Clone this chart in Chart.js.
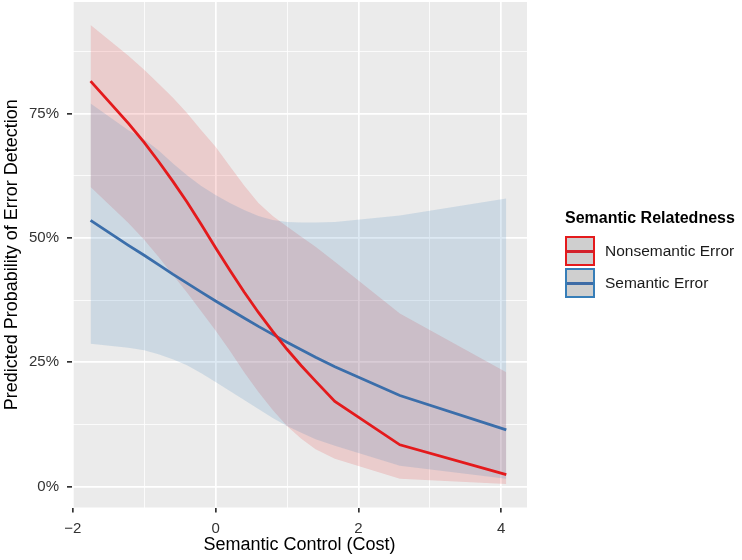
<!DOCTYPE html>
<html lang="en">
  <head>
    <meta charset="utf-8">
    <title>Predicted Probability of Error Detection</title>
    <style>
      html, body { margin: 0; padding: 0; background: #fff; }
      #wrapper { position: relative; width: 742px; height: 560px; }
      canvas { display: block; }
      #legend {
        position: absolute; left: 565px; top: 209px;
        font-family: "Liberation Sans", Arial, sans-serif; color: #000;
      }
      #legend .title { font-weight: bold; font-size: 16px; margin-bottom: 8px; }
      #legend .row { display: flex; align-items: center; height: 32px; }
      #legend .key {
        position: relative; width: 26px; height: 26px; box-sizing: content-box;
        border: 2px solid; background: #cfcfcf; margin-right: 10px;
      }
      #legend .key span { position: absolute; left: 0; right: 0; top: 11.5px; height: 3px; }
      #legend .lbl { font-size: 15.5px; color: #1a1a1a; }
    </style>
  </head>
  <body>
    <div id="wrapper">
      <canvas id="canvas" width="742" height="560"></canvas>
      <div id="legend">
        <div class="title">Semantic Relatedness</div>
        <div class="row"><div class="key" style="border-color:#e41a1c"><span style="background:#d3212b"></span></div><div class="lbl">Nonsemantic Error</div></div>
        <div class="row"><div class="key" style="border-color:#377eb8"><span style="background:#3e6ca6"></span></div><div class="lbl">Semantic Error</div></div>
      </div>
    </div>

    <script src="https://cdn.jsdelivr.net/npm/chart.js@4"></script>
    <script>
      // semantic control (cost) values where the fit was evaluated
      const xs       = [-1.75, -1.22, -1.0, -0.8, -0.6, -0.4, -0.2, 0, 0.2, 0.4, 0.6, 0.8, 1.0, 1.2, 1.4, 1.67, 2.58, 4.07];
      // Nonsemantic Error: fit and 95% band (percent)
      const redFit   = [81.5, 73.0, 69.2, 65.4, 61.4, 57.2, 52.7, 48.0, 43.5, 39.1, 35.0, 31.2, 27.6, 24.3, 21.2, 17.1, 8.4, 2.4];
      const redLow   = [60.2, 53.0, 49.6, 46.2, 42.6, 39.0, 35.2, 31.4, 27.3, 23.0, 19.0, 15.4, 12.2, 9.6, 7.5, 5.6, 1.6, 0.5];
      const redHigh  = [92.8, 86.6, 83.8, 81.0, 78.2, 75.1, 71.6, 68.3, 64.4, 60.5, 57.0, 54.4, 52.3, 50.2, 48.2, 45.2, 34.8, 23.0];
      // Semantic Error: fit and 95% band (percent)
      const blueFit  = [53.5, 48.5, 46.5, 44.6, 42.7, 40.9, 39.1, 37.3, 35.6, 33.9, 32.2, 30.6, 29.0, 27.5, 26.0, 24.1, 18.3, 11.4];
      const blueLow  = [28.7, 27.9, 27.4, 26.6, 25.6, 24.4, 22.8, 21.0, 19.2, 17.4, 15.6, 13.8, 12.2, 10.8, 9.5, 8.2, 4.2, 1.6];
      const blueHigh = [77.0, 71.6, 69.8, 67.6, 65.0, 62.6, 60.4, 58.6, 57.0, 55.6, 54.4, 53.6, 53.2, 53.1, 53.1, 53.2, 54.5, 57.9];

      const xTicks = [-2, -1, 0, 1, 2, 3, 4];
      const yTicks = [0, 12.5, 25, 37.5, 50, 62.5, 75, 87.5];

      const pts = ys => xs.map((x, i) => ({x: x, y: ys[i]}));
      const font = {family: '"Liberation Sans", Arial, sans-serif'};

      const panelBg = {
        id: 'panelBg',
        beforeDraw(chart) {
          const a = chart.chartArea, c = chart.ctx;
          c.save();
          c.fillStyle = '#ebebeb';
          c.fillRect(a.left, a.top, a.right - a.left, a.bottom - a.top);
          c.restore();
        }
      };

      const isMajorX = v => v % 2 === 0;
      const isMajorY = v => v % 25 === 0;

      let options = {
        type: 'line',
        data: {
          datasets: [
            {label: 'Nonsemantic Error', data: pts(redFit), borderColor: '#e41a1c', borderWidth: 2.8, pointRadius: 0, fill: false},
            {label: 'Semantic Error', data: pts(blueFit), borderColor: '#3b6eaa', borderWidth: 2.8, pointRadius: 0, fill: false},
            {label: 'blueHigh', data: pts(blueHigh), borderWidth: 0, pointRadius: 0, fill: '+1', backgroundColor: 'rgba(55,126,184,0.17)'},
            {label: 'blueLow', data: pts(blueLow), borderWidth: 0, pointRadius: 0, fill: false},
            {label: 'redHigh', data: pts(redHigh), borderWidth: 0, pointRadius: 0, fill: '+1', backgroundColor: 'rgba(228,26,28,0.15)'},
            {label: 'redLow', data: pts(redLow), borderWidth: 0, pointRadius: 0, fill: false}
          ]
        },
        plugins: [panelBg],
        options: {
          responsive: false,
          animation: false,
          devicePixelRatio: 1,
          layout: {padding: {top: 2, right: 215, left: 0, bottom: 0}},
          plugins: {legend: {display: false}, tooltip: {enabled: false}},
          elements: {line: {tension: 0}},
          scales: {
            x: {
              type: 'linear', min: -2.01, max: 4.36,
              afterBuildTicks: s => { s.ticks = xTicks.map(v => ({value: v})); },
              afterFit: s => { s.height = 52.5; s.paddingLeft = 0; s.paddingRight = 0; },
              border: {display: false},
              grid: {
                color: '#ffffff',
                lineWidth: c => isMajorX(c.tick.value) ? 1.7 : 0.8,
                tickLength: 5,
                tickColor: c => isMajorX(c.tick.value) ? '#333333' : 'rgba(0,0,0,0)',
                tickWidth: 1.7
              },
              ticks: {
                padding: 7,
                color: '#333333',
                font: Object.assign({size: 15}, font),
                callback: v => isMajorX(v) ? (v < 0 ? '\u2212' + Math.abs(v) : String(v)) : ''
              },
              title: {display: true, text: 'Semantic Control (Cost)', color: '#000', font: Object.assign({size: 18}, font), padding: {top: 0}}
            },
            y: {
              type: 'linear', min: -4.2, max: 97.4,
              afterBuildTicks: s => { s.ticks = yTicks.map(v => ({value: v})); },
              afterFit: s => { s.width = 72; s.paddingTop = 0; s.paddingBottom = 0; },
              border: {display: false},
              grid: {
                color: '#ffffff',
                lineWidth: c => isMajorY(c.tick.value) ? 1.7 : 0.8,
                tickLength: 5,
                tickColor: c => isMajorY(c.tick.value) ? '#333333' : 'rgba(0,0,0,0)',
                tickWidth: 1.7
              },
              ticks: {
                padding: 8,
                color: '#333333',
                font: Object.assign({size: 15}, font),
                callback: v => isMajorY(v) ? v + '%' : ''
              },
              title: {display: true, text: 'Predicted Probability of Error Detection', color: '#000', font: Object.assign({size: 18}, font), padding: {top: 1, bottom: 0}}
            }
          }
        }
      };

      let chart = new Chart(document.getElementById('canvas'), options);
    </script>
  </body>
</html>
